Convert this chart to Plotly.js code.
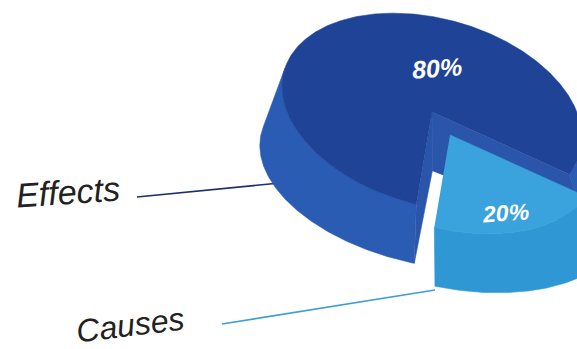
<!DOCTYPE html>
<html><head><meta charset="utf-8">
<script src="https://cdn.plot.ly/plotly-3.0.1.min.js"></script>
<style>html,body{margin:0;padding:0;background:#fff;}#chart{width:577px;height:349px;}</style>
</head><body><div id="chart"></div>
<script>
// ---- data ----
const categories = ['Effects', 'Causes'];
const values = [80, 20];
const valueLabels = values.map(v => v + '%');

// ---- styles ----
const topColors = ['#1f4396', '#3aa2dd'];
const wallColors = ['#2b5cb4', '#2f98d4'];
const faceColors = ['#2a55ab', '#45afe4'];
const lineColors = ['#1d2d6e', '#3d9fd6'];
const pulls = [0, 0.24];

// projection of the pie disc (sheared ellipse) + extrusion
const G = {cx: 432, cy: 112, W: 150, H: 95.5, k: 0.17, depth: 59, px: 430, sx: 1.15, start: 24};
const total = values.reduce((a, b) => a + b, 0);

function rim(s, off) {
  const r = s * Math.PI / 180, c = Math.cos(r), sn = Math.sin(r);
  return [G.cx + G.W * c + off[0], G.cy + G.k * G.W * c + G.H * sn + off[1]];
}
function low(p) { return [G.px + G.sx * (p[0] - G.px), p[1] + G.depth]; }
function area(pts) {
  let a = 0;
  for (let i = 0; i < pts.length; i++) {
    const p = pts[i], q = pts[(i + 1) % pts.length];
    a += p[0] * q[1] - q[0] * p[1];
  }
  return a / 2;
}
function poly(pts, color) {
  return {
    type: 'scatter', mode: 'lines', fill: 'toself', fillcolor: color,
    x: pts.map(p => p[0]), y: pts.map(p => p[1]),
    line: {width: 0.6, color: color}, hoverinfo: 'skip', showlegend: false
  };
}

// angle ranges (Causes first, then Effects, going around)
const ranges = [];
let acc = G.start;
for (let i = values.length - 1; i >= 0; i--) {
  const span = values[i] / total * 360;
  ranges[i] = [acc, acc + span];
  acc += span;
}

const traces = [];
for (let i = 0; i < values.length; i++) {
  const [s1, s2] = ranges[i];
  const mid = (s1 + s2) / 2;
  const m = rim(mid, [0, 0]);
  const off = [pulls[i] * (m[0] - G.cx), pulls[i] * (m[1] - G.cy)];
  const ctop = [G.cx + off[0], G.cy + off[1]];
  const cbot = low(ctop);

  // radial faces
  const r1 = rim(s1, off), r2 = rim(s2, off);
  const f1 = [r1, low(r1), cbot, ctop];
  const f2 = [low(r2), r2, ctop, cbot];
  if (area(f1) < 0) traces.push(poly(f1, faceColors[i]));
  if (area(f2) < 0) traces.push(poly(f2, faceColors[i]));

  // outer wall: front-facing runs only
  const n = Math.ceil((s2 - s1) / 0.5);
  const tops = [];
  for (let j = 0; j <= n; j++) tops.push(rim(s1 + (s2 - s1) * j / n, off));
  let run = null;
  const flush = () => {
    if (run && run.length > 1) {
      const pts = run.concat(run.slice().reverse().map(low));
      traces.push(poly(pts, wallColors[i]));
    }
    run = null;
  };
  for (let j = 0; j < n; j++) {
    const q = [tops[j], tops[j + 1], low(tops[j + 1]), low(tops[j])];
    if (area(q) < 0) {
      if (!run) run = [tops[j]];
      run.push(tops[j + 1]);
    } else flush();
  }
  flush();

  // top face
  traces.push(poly([ctop].concat(tops), topColors[i]));
}

const valuePos = [[437, 68], [505, 213]];
const valueSize = [25, 23];
const catPos = [[68, 192, -4], [130, 325, -7]];
const catSize = [34, 32];
const lineEnds = [[[137, 197], [280, 183]], [[222, 324], [435, 290]]];

const annotations = [];
const shapes = [];
for (let i = 0; i < values.length; i++) {
  annotations.push({
    x: valuePos[i][0], y: valuePos[i][1], xref: 'x', yref: 'y', showarrow: false,
    text: '<b><i>' + valueLabels[i] + '</i></b>',
    font: {family: 'Liberation Sans, Arial, sans-serif', size: valueSize[i], color: '#ffffff'},
    xanchor: 'center', yanchor: 'middle', textangle: -4
  });
  annotations.push({
    x: catPos[i][0], y: catPos[i][1], xref: 'x', yref: 'y', showarrow: false,
    text: '<i>' + categories[i] + '</i>',
    font: {family: 'Liberation Sans, Arial, sans-serif', size: catSize[i], color: '#222222'},
    xanchor: 'center', yanchor: 'middle', textangle: catPos[i][2]
  });
  shapes.push({
    type: 'line', xref: 'x', yref: 'y',
    x0: lineEnds[i][0][0], y0: lineEnds[i][0][1], x1: lineEnds[i][1][0], y1: lineEnds[i][1][1],
    line: {color: lineColors[i], width: 1.6}, layer: 'below'
  });
}

const layout = {
  width: 577, height: 349,
  margin: {l: 0, r: 0, t: 0, b: 0, pad: 0},
  paper_bgcolor: '#ffffff', plot_bgcolor: '#ffffff',
  xaxis: {range: [0, 577], visible: false, fixedrange: true},
  yaxis: {range: [349, 0], visible: false, fixedrange: true},
  showlegend: false,
  annotations: annotations,
  shapes: shapes
};
Plotly.newPlot('chart', traces, layout, {staticPlot: true, displayModeBar: false});
</script>
</body></html>
